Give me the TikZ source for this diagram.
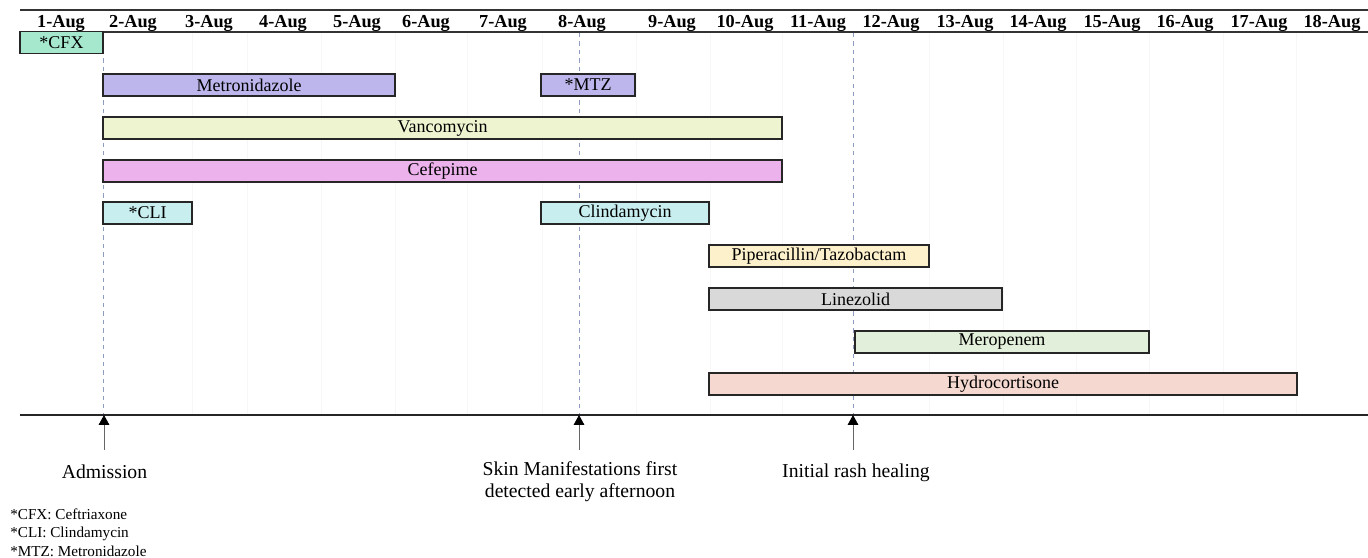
\documentclass[tikz,border=0pt]{standalone}
\usepackage{fontspec}
\setmainfont{Liberation Serif}
\usetikzlibrary{arrows.meta}

\definecolor{cfxcol}{HTML}{A6E8CE}
\definecolor{mtzcol}{HTML}{BDB6EC}
\definecolor{vanccol}{HTML}{EEF3D0}
\definecolor{cefecol}{HTML}{EBB2EB}
\definecolor{clicol}{HTML}{C9EEF0}
\definecolor{pipcol}{HTML}{FDF1CC}
\definecolor{linecol}{HTML}{D9D9D9}
\definecolor{merocol}{HTML}{E2EFDA}
\definecolor{hydrocol}{HTML}{F5D8CF}
\definecolor{eventcol}{HTML}{8E9CC0}

\tikzset{
    drugbar/.style={draw=black!85, line width=1.1pt, minimum height=0.55cm,
        inner sep=0pt, font=\fontsize{12.8}{14}\selectfont},
    daylabel/.style={anchor=base, inner sep=0pt, font=\bfseries\fontsize{13}{15}\selectfont},
    gridline/.style={draw=black!3, line width=0.5pt},
    eventline/.style={draw=eventcol, dashed, line width=0.6pt},
    eventarrow/.style={-{Triangle[length=7pt, width=7.5pt, black]}, draw=black!60, line width=0.6pt},
    eventlabel/.style={anchor=base, inner sep=0pt, align=center,
        font=\fontsize{14}{16}\selectfont},
    footlabel/.style={anchor=base west, inner sep=0pt, font=\fontsize{10.8}{13}\selectfont},
}

\begin{document}
\begin{tikzpicture}[x=0.025cm, y=-0.025cm]
    \useasboundingbox (0,0) rectangle (1368,558);

    % faint column grid
    \foreach \x in {192,247,321,395,467,542,636,710,782,929,1003,1076,1149,1223,1296}
        \draw[gridline] (\x,33) -- (\x,414);

    % header with dates
    \draw[line width=1.6pt, black!80] (20,10) -- (1368,10);
    \draw[line width=1.6pt, black!80] (20,32) -- (1368,32);
    \foreach \d/\x in {1/61,2/133,3/209,4/283,5/357,6/426,7/503,8/582,9/672,
                       10/745,11/818,12/891,13/965,14/1038,15/1112,16/1185,17/1259,18/1332}
        \node[daylabel] (day\d) at (\x,28) {\d-Aug};

    % event markers
    \coordinate (admtop) at (103,33);
    \coordinate (skintop) at (579,33);
    \coordinate (rashtop) at (853,33);
    \coordinate (axL) at (20,415);
    \coordinate (axR) at (1368,415);
    \draw[eventline] (admtop) -- (admtop |- axL);
    \draw[eventline] (skintop) -- (skintop |- axL);
    \draw[eventline] (rashtop) -- (rashtop |- axL);

    % drug bars
    \node[drugbar, fill=cfxcol, minimum width=2.075cm] (cfx) at (61.5,42.5) {*CFX};
    \node[drugbar, fill=mtzcol, minimum width=7.3cm] (mtz1) at (249,85) {Metronidazole};
    \node[drugbar, fill=mtzcol, minimum width=2.35cm] (mtz2) at (588,85) {*MTZ};
    \node[drugbar, fill=vanccol, minimum width=16.975cm] (vanc) at (442.5,128) {Vancomycin};
    \node[drugbar, fill=cefecol, minimum width=16.975cm] (cefe) at (442.5,171) {Cefepime};
    \node[drugbar, fill=clicol, minimum width=2.225cm] (cli1) at (147.5,213) {*CLI};
    \node[drugbar, fill=clicol, minimum width=4.2cm] (cli2) at (625,213) {Clindamycin};
    \node[drugbar, fill=pipcol, minimum width=5.5cm] (pip) at (819,256) {Piperacillin/Tazobactam};
    \node[drugbar, fill=linecol, minimum width=7.325cm] (lzd) at (855.5,299) {Linezolid};
    \node[drugbar, fill=merocol, minimum width=7.35cm] (mero) at (1002,342) {Meropenem};
    \node[drugbar, fill=hydrocol, minimum width=14.7cm] (hydro) at (1003,384) {Hydrocortisone};

    % time axis
    \draw[line width=1.4pt, black!85] (axL) -- (axR);

    \coordinate (admfoot) at (104,450);
    \coordinate (skinfoot) at (579,450);
    \coordinate (rashfoot) at (853,450);
    \draw[eventarrow] (admfoot) -- (admfoot |- axL);
    \draw[eventarrow] (skinfoot) -- (skinfoot |- axL);
    \draw[eventarrow] (rashfoot) -- (rashfoot |- axL);

    \node[eventlabel] (adm) at (104.5,478) {Admission};
    \node[eventlabel] (skin1) at (580,475) {Skin Manifestations first};
    \node[eventlabel] (skin2) at (580,497) {detected early afternoon};
    \node[eventlabel] (rash) at (856,477) {Initial rash healing};

    % abbreviations
    \node[footlabel] (fcfx) at (10,519) {*CFX: Ceftriaxone};
    \node[footlabel] (fcli) at (10,537.5) {*CLI: Clindamycin};
    \node[footlabel] (fmtz) at (10,556) {*MTZ: Metronidazole};
\end{tikzpicture}
\end{document}
